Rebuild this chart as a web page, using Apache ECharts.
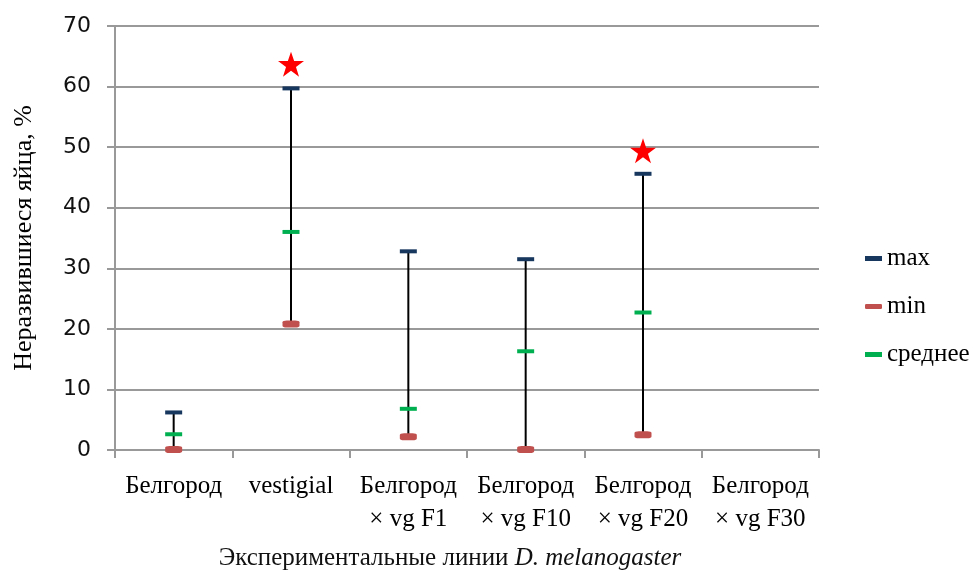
<!DOCTYPE html>
<html>
<head>
<meta charset="utf-8">
<script src="https://cdn.jsdelivr.net/npm/echarts@6/dist/echarts.min.js"></script>
<style>
  html, body { margin: 0; padding: 0; background: #fff; }
  #chart { width: 979px; height: 572px; }
</style>
</head>
<body>
<div id="chart"></div>
<script>
  // экспериментальные линии
  var categories = ['Белгород', 'vestigial', 'Белгород\n× vg F1', 'Белгород\n× vg F10', 'Белгород\n× vg F20', 'Белгород\n× vg F30']
  var maxVals = [6.2, 59.7, 32.8, 31.5, 45.6, null]
  var minVals = [0.1, 20.8, 2.2, 0.1, 2.5, null]
  var meanVals = [2.6, 36.0, 6.8, 16.3, 22.7, null]
  // значимые отличия (звёздочки)
  var starVals = [null, 63.7, null, null, 49.4, null]
  var yTicks = [0, 10, 20, 30, 40, 50, 60, 70]

  var serif = '"Liberation Serif", "Times New Roman", serif'
  var starPath = 'path://M12,0 L14.9,8.6 L24,8.6 L16.6,14 L19.4,22.8 L12,17.4 L4.6,22.8 L7.4,14 L0,8.6 L9.1,8.6 Z'

  var rangeData = []
  categories.forEach(function (c, i) {
    if (minVals[i] != null && maxVals[i] != null) {
      rangeData.push([i, minVals[i], maxVals[i]])
    }
  })

  var chart = echarts.init(document.getElementById('chart'))
  chart.setOption({
    animation: false,
    backgroundColor: '#fff',
    grid: {
      left: 115,
      right: 160,
      top: 26,
      bottom: 122,
      containLabel: false,
      outerBoundsMode: 'none'
    },
    legend: {
      orient: 'vertical',
      left: 860,
      top: 241,
      itemWidth: 17,
      itemHeight: 5,
      itemGap: 23,
      textStyle: {
        fontFamily: serif,
        fontSize: 25,
        color: '#000'
      },
      data: [
        { name: 'max', icon: 'rect' },
        { name: 'min', icon: 'roundRect' },
        { name: 'среднее', icon: 'rect' }
      ]
    },
    xAxis: {
      type: 'category',
      data: categories,
      boundaryGap: true,
      name: 'Экспериментальные линии {i|D. melanogaster}',
      nameLocation: 'middle',
      nameGap: 96,
      nameTextStyle: {
        fontFamily: serif,
        fontSize: 25,
        color: '#111',
        padding: [0, 34, 0, 0],
        rich: {
          i: { fontFamily: serif, fontSize: 25, fontStyle: 'italic', color: '#111' }
        }
      },
      axisLine: { show: true, lineStyle: { color: '#999', width: 2 } },
      axisTick: { show: true, length: 8, lineStyle: { color: '#999', width: 2 } },
      axisLabel: {
        interval: 0,
        margin: 20,
        fontFamily: serif,
        fontSize: 25,
        lineHeight: 33,
        color: '#000'
      },
      splitLine: { show: false }
    },
    yAxis: {
      type: 'value',
      min: yTicks[0],
      max: yTicks[yTicks.length - 1],
      interval: 10,
      name: 'Неразвившиеся яйца, %',
      nameLocation: 'middle',
      nameGap: 78,
      nameTextStyle: {
        fontFamily: serif,
        fontSize: 26,
        color: '#000'
      },
      axisLine: { show: true, lineStyle: { color: '#999', width: 2 } },
      axisTick: { show: true, length: 8, lineStyle: { color: '#999', width: 2 } },
      axisLabel: {
        margin: 24,
        fontFamily: '"DejaVu Sans", Verdana, sans-serif',
        fontSize: 22,
        color: '#111'
      },
      splitLine: { show: true, lineStyle: { color: '#999', width: 2 } }
    },
    series: [
      {
        name: 'range',
        type: 'custom',
        z: 2,
        data: rangeData,
        renderItem: function (params, api) {
          var lo = api.coord([api.value(0), api.value(1)])
          var hi = api.coord([api.value(0), api.value(2)])
          return {
            type: 'line',
            shape: { x1: lo[0], y1: lo[1], x2: hi[0], y2: hi[1] },
            style: { stroke: '#000', lineWidth: 2 }
          }
        }
      },
      {
        name: 'max',
        type: 'scatter',
        z: 3,
        symbol: 'rect',
        symbolSize: [17, 4],
        itemStyle: { color: '#17375E', opacity: 1 },
        data: maxVals
      },
      {
        name: 'min',
        type: 'scatter',
        z: 3,
        symbol: 'roundRect',
        symbolSize: [17, 7],
        itemStyle: { color: '#C0504D', opacity: 1 },
        data: minVals
      },
      {
        name: 'среднее',
        type: 'scatter',
        z: 4,
        symbol: 'rect',
        symbolSize: [17, 4],
        itemStyle: { color: '#00B050', opacity: 1 },
        data: meanVals
      },
      {
        name: 'star',
        type: 'scatter',
        z: 5,
        symbol: starPath,
        symbolSize: [26, 25],
        itemStyle: { color: '#FF0000', opacity: 1 },
        data: starVals
      }
    ]
  })
</script>
</body>
</html>
